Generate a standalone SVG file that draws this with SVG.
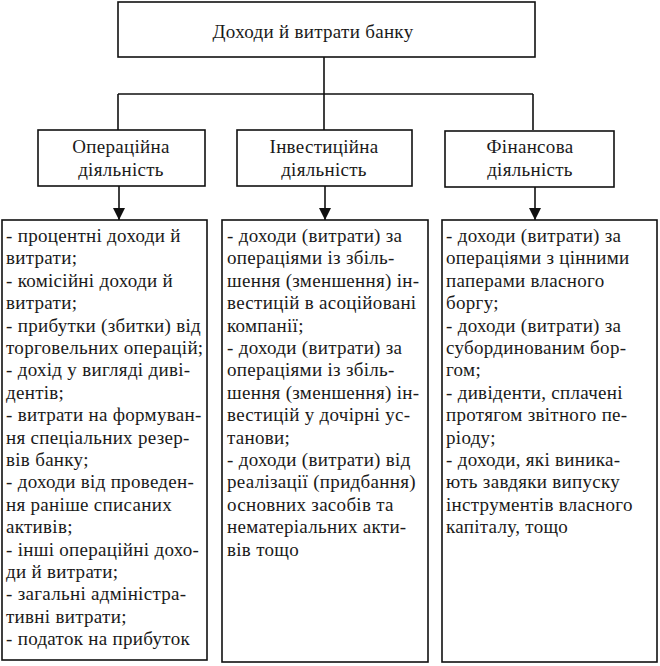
<svg xmlns="http://www.w3.org/2000/svg" width="660" height="666" viewBox="0 0 660 666">
<style>
.box{fill:#fff;stroke:#111;stroke-width:1.6}
.ln{fill:none;stroke:#111;stroke-width:1.6}
.c{text-anchor:middle}
</style>
<defs>
<marker id="ah" viewBox="0 0 12 12" refX="12" refY="6" markerWidth="12" markerHeight="12" markerUnits="userSpaceOnUse" orient="auto">
<path d="M0,0 L12,6 L0,12 z" fill="#111"/>
</marker>
</defs>
<rect width="660" height="666" fill="#fff"/>
<g id="connectors">
<path class="ln" d="M324,57 V94 M118,94 H533 M118,94 V130 M324,94 V130 M533,94 V130"/>
<path class="ln" d="M119,186 V220" marker-end="url(#ah)"/>
<path class="ln" d="M325,186 V220" marker-end="url(#ah)"/>
<path class="ln" d="M535,187 V220" marker-end="url(#ah)"/>
</g>
<g font-family="Liberation Serif, DejaVu Serif, serif" font-size="19" letter-spacing="0.3" fill="#1a1a1a">
<g id="root">
<rect class="box" x="118" y="2" width="417" height="55"/>
<text class="c" x="313" y="38">Доходи й витрати банку</text>
</g>
<g id="op">
<rect class="box" x="38" y="130" width="167" height="56"/>
<text class="c" x="121"><tspan x="121" y="153">Операційна</tspan><tspan x="121" y="176">діяльність</tspan></text>
</g>
<g id="inv">
<rect class="box" x="237" y="130" width="175" height="56"/>
<text class="c"><tspan x="324" y="153">Інвестиційна</tspan><tspan x="324" y="176">діяльність</tspan></text>
</g>
<g id="fin">
<rect class="box" x="445" y="131" width="169" height="56"/>
<text class="c"><tspan x="530" y="153">Фінансова</tspan><tspan x="530" y="176">діяльність</tspan></text>
</g>
<g id="op-list">
<rect class="box" x="2" y="220" width="205" height="440"/>
<text x="6" y="242">
<tspan x="6" dy="0">- процентні доходи й</tspan>
<tspan x="6" dy="22.4">витрати;</tspan>
<tspan x="6" dy="22.4">- комісійні доходи й</tspan>
<tspan x="6" dy="22.4">витрати;</tspan>
<tspan x="6" dy="22.4">- прибутки (збитки) від</tspan>
<tspan x="6" dy="22.4">торговельних операцій;</tspan>
<tspan x="6" dy="22.4">- дохід у вигляді диві-</tspan>
<tspan x="6" dy="22.4">дентів;</tspan>
<tspan x="6" dy="22.4">- витрати на формуван-</tspan>
<tspan x="6" dy="22.4">ня спеціальних резер-</tspan>
<tspan x="6" dy="22.4">вів банку;</tspan>
<tspan x="6" dy="22.4">- доходи від проведен-</tspan>
<tspan x="6" dy="22.4">ня раніше списаних</tspan>
<tspan x="6" dy="22.4">активів;</tspan>
<tspan x="6" dy="22.4">- інші операційні дохо-</tspan>
<tspan x="6" dy="22.4">ди й витрати;</tspan>
<tspan x="6" dy="22.4">- загальні адміністра-</tspan>
<tspan x="6" dy="22.4">тивні витрати;</tspan>
<tspan x="6" dy="22.4">- податок на прибуток</tspan>
</text>
</g>
<g id="inv-list">
<rect class="box" x="222" y="220" width="206" height="442"/>
<text x="227" y="242">
<tspan x="227" dy="0">- доходи (витрати) за</tspan>
<tspan x="227" dy="22.4">операціями із збіль-</tspan>
<tspan x="227" dy="22.4">шення (зменшення) ін-</tspan>
<tspan x="227" dy="22.4">вестицій в асоційовані</tspan>
<tspan x="227" dy="22.4">компанії;</tspan>
<tspan x="227" dy="22.4">- доходи (витрати) за</tspan>
<tspan x="227" dy="22.4">операціями із збіль-</tspan>
<tspan x="227" dy="22.4">шення (зменшення) ін-</tspan>
<tspan x="227" dy="22.4">вестицій у дочірні ус-</tspan>
<tspan x="227" dy="22.4">танови;</tspan>
<tspan x="227" dy="22.4">- доходи (витрати) від</tspan>
<tspan x="227" dy="22.4">реалізації (придбання)</tspan>
<tspan x="227" dy="22.4">основних засобів та</tspan>
<tspan x="227" dy="22.4">нематеріальних акти-</tspan>
<tspan x="227" dy="22.4">вів тощо</tspan>
</text>
</g>
<g id="fin-list">
<rect class="box" x="442" y="220" width="215" height="442"/>
<text x="446" y="242">
<tspan x="446" dy="0">- доходи (витрати) за</tspan>
<tspan x="446" dy="22.4">операціями з цінними</tspan>
<tspan x="446" dy="22.4">паперами власного</tspan>
<tspan x="446" dy="22.4">боргу;</tspan>
<tspan x="446" dy="22.4">- доходи (витрати) за</tspan>
<tspan x="446" dy="22.4">субординованим бор-</tspan>
<tspan x="446" dy="22.4">гом;</tspan>
<tspan x="446" dy="22.4">- дивіденти, сплачені</tspan>
<tspan x="446" dy="22.4">протягом звітного пе-</tspan>
<tspan x="446" dy="22.4">ріоду;</tspan>
<tspan x="446" dy="22.4">- доходи, які виника-</tspan>
<tspan x="446" dy="22.4">ють завдяки випуску</tspan>
<tspan x="446" dy="22.4">інструментів власного</tspan>
<tspan x="446" dy="22.4">капіталу, тощо</tspan>
</text>
</g>
</g>
</svg>
